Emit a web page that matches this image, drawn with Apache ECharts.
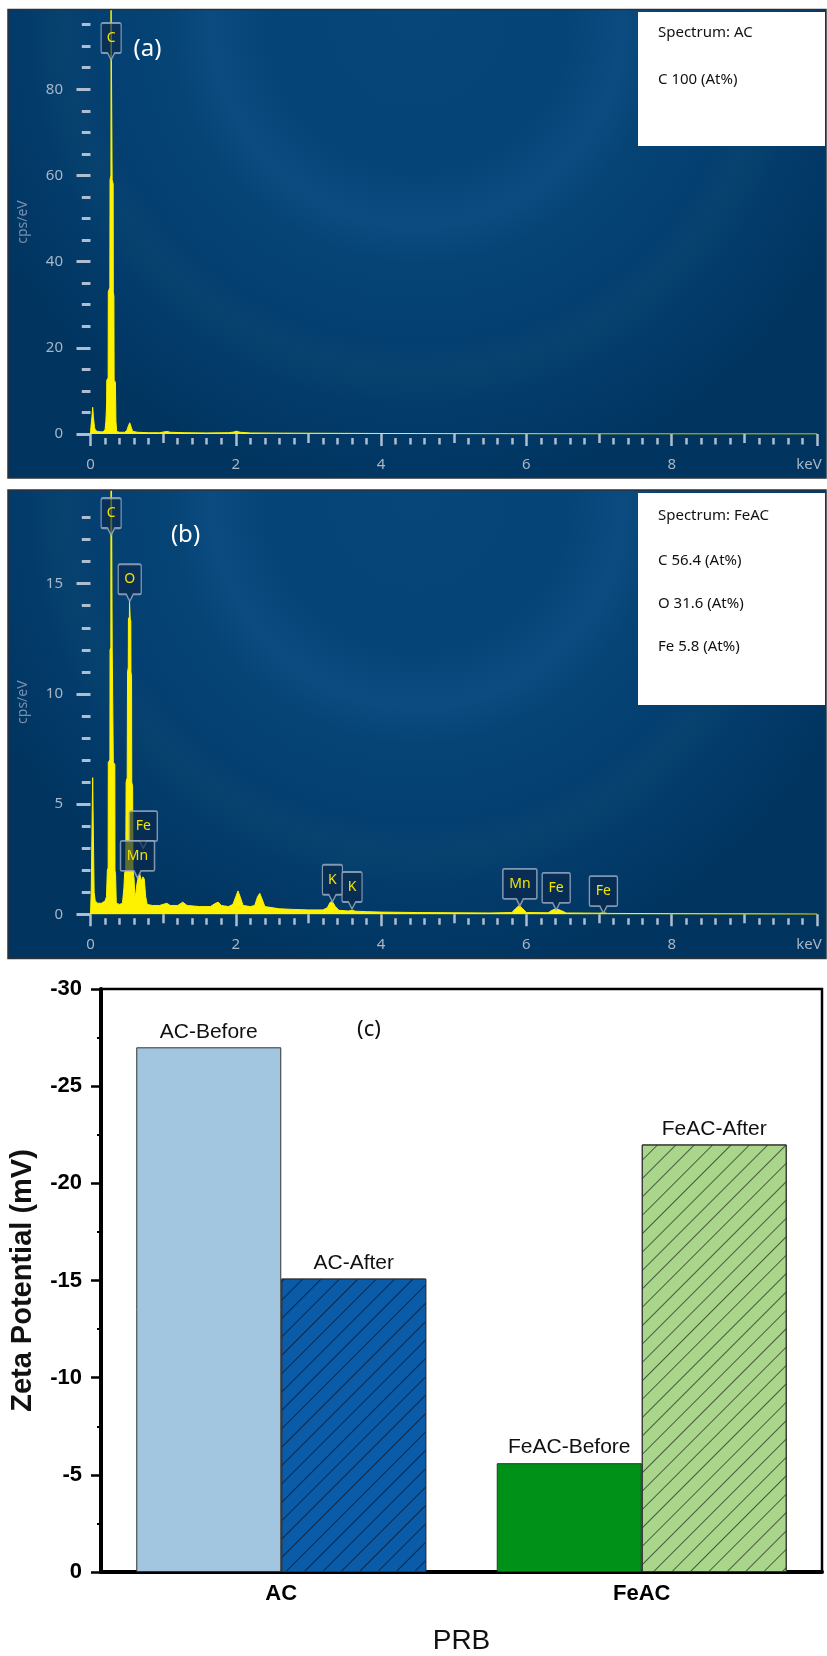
<!DOCTYPE html>
<html><head><meta charset="utf-8">
<script src="https://cdn.jsdelivr.net/npm/echarts@6/dist/echarts.min.js"></script>
<style>html,body{margin:0;padding:0;background:#fff}#c{width:827px;height:1656px}</style>
</head><body><div id="c"></div>
<script>
// ---------- DATA ----------
// Panel (a): EDS spectrum of AC  [keV, cps/eV]
const specA = [[0,0],[0.005,1.5],[0.02,4],[0.03,6.2],[0.04,4],[0.055,1.5],[0.07,0.8],[0.1,0.6],[0.13,0.5],[0.17,0.5],[0.2,0.9],
  [0.212,3],[0.222,7.2],[0.224,12.5],[0.243,13],[0.245,33],[0.266,34],[0.269,59],[0.281,60],[0.283,100],[0.296,100],[0.298,59],
  [0.312,58],[0.314,33],[0.322,32],[0.325,12.5],[0.343,12],[0.35,3],[0.36,0.6],[0.4,0.4],[0.47,0.4],[0.5,0.8],[0.52,1.8],[0.54,2.6],
  [0.56,1.6],[0.58,0.6],[0.65,0.4],[0.8,0.3],[0.95,0.3],[1.0,0.45],[1.05,0.6],[1.1,0.4],[1.3,0.3],[1.6,0.25],[1.9,0.3],[1.97,0.45],
  [2.01,0.65],[2.06,0.4],[2.2,0.25],[2.6,0.2],[3.0,0.18],[3.5,0.15],[4.0,0.12],[4.5,0.1],[5.0,0.07],[5.5,0.05],[6.0,0.04],[7.0,0.02],[8.0,0.01],[10,0]];
// Panel (b): EDS spectrum of FeAC  [keV, cps/eV]
const specB = [[0,0],[0.01,1],[0.025,5],[0.03,6.2],[0.038,4],[0.05,1],[0.065,0.6],[0.1,0.5],[0.15,0.5],[0.2,0.6],[0.22,0.8],
  [0.232,2],[0.243,2.1],[0.245,6.9],[0.267,7],[0.269,12],[0.28,12.1],[0.282,25],[0.297,25],[0.299,12],[0.312,12],[0.314,6.9],
  [0.335,6.8],[0.337,2],[0.345,1.8],[0.355,0.5],[0.4,0.45],[0.44,0.5],[0.46,1.2],[0.47,1.9],[0.485,2],[0.49,6],[0.505,6.2],
  [0.51,11],[0.52,11.2],[0.522,13.4],[0.535,13.5],[0.537,14.2],[0.545,14.2],[0.547,13.4],[0.555,13.3],[0.557,11],[0.565,10.8],
  [0.568,6],[0.58,5.8],[0.585,2],[0.6,1.6],[0.61,0.8],[0.625,1.0],[0.64,1.4],[0.66,1.7],[0.68,1.8],[0.7,1.5],[0.72,1.7],[0.74,1.6],
  [0.76,0.8],[0.78,0.45],[0.85,0.4],[0.95,0.4],[1.05,0.5],[1.1,0.4],[1.2,0.4],[1.27,0.55],[1.33,0.4],[1.5,0.35],[1.65,0.35],
  [1.72,0.5],[1.76,0.55],[1.8,0.4],[1.9,0.35],[1.96,0.45],[2.0,0.8],[2.03,1.06],[2.06,0.8],[2.1,0.4],[2.2,0.35],[2.26,0.4],
  [2.3,0.8],[2.33,0.95],[2.36,0.7],[2.4,0.35],[2.6,0.25],[2.8,0.22],[3.0,0.2],[3.2,0.2],[3.26,0.3],[3.3,0.55],[3.33,0.57],
  [3.37,0.35],[3.42,0.18],[3.55,0.15],[3.6,0.18],[3.65,0.14],[3.8,0.12],[4.0,0.1],[4.5,0.08],[5.0,0.07],[5.5,0.06],[5.8,0.08],
  [5.85,0.25],[5.9,0.4],[5.95,0.25],[6.0,0.08],[6.3,0.07],[6.35,0.18],[6.41,0.25],[6.47,0.18],[6.55,0.06],[7.0,0.05],[7.06,0.07],
  [7.12,0.04],[8.0,0.03],[9.0,0.02],[10,0.01]];
// Peak callouts: element, keV, cps at pointer tip
const peaksA = [['C',0.284,86.8]];
const peaksB = [['C',0.284,17.2],['O',0.54,14.2],['Fe',0.727,3.0],['Mn',0.647,1.65],['K',3.33,0.57],['K',3.6,0.24],
  ['Mn',5.91,0.38],['Fe',6.41,0.2],['Fe',7.06,0.05]];
const legendA = ['Spectrum: AC','C 100 (At%)'];
const legendB = ['Spectrum: FeAC','C 56.4 (At%)','O 31.6 (At%)','Fe 5.8 (At%)'];
// EDS axis ticks
const keVMajor = [0,2,4,6,8,10];
const keVLabels = ['0','2','4','6','8','keV'];
const keVMid = [1,3,5,7,9];
const cpsMajorA = [0,20,40,60,80];
const cpsMajorB = [0,5,10,15];
// Panel (c): zeta potential
const categories = ['AC','FeAC'];
const beforeValues = [-27.0,-5.6];
const afterValues = [-15.1,-22.0];
const beforeLabels = ['AC-Before','FeAC-Before'];
const afterLabels = ['AC-After','FeAC-After'];

// ---------- STYLE ----------
const tickCol = '#aebdcf', labCol = '#a9b6c7';
const boxW = {C:20,O:23,K:20,Fe:28,Mn:34};
function callout(w){const h=30,t=37,r=1.5,c=w/2;
  return `path://M${r},0 L${w-r},0 Q${w},0 ${w},${r} L${w},${h-r} Q${w},${h} ${w-r},${h} L${c+3.5},${h} L${c},${t} L${c-3.5},${h} L${r},${h} Q0,${h} 0,${h-r} L0,${r} Q0,0 ${r},0 Z`;}
function markers(list){return {
  data: list.map(p=>{const w=boxW[p[0]];return {name:p[0],coord:[p[1],p[2]],symbol:callout(w),symbolSize:[w,37],symbolOffset:[0,-18.5]};}),
  itemStyle:{color:'rgba(10,40,75,0.66)',borderColor:'rgba(160,176,198,0.8)',borderWidth:1.6},
  label:{show:true,formatter:'{b}',color:'#f3e400',fontSize:14,fontFamily:'Noto Sans',offset:[0,-3.5]},
  emphasis:{disabled:true},silent:true};}
function minorVals(max,step,skip){const a=[];for(let i=1;i*step<=max+1e-9;i++){const v=Math.round(i*step*100)/100;if(Math.abs(v/skip-Math.round(v/skip))>1e-6)a.push(v);}return a;}

function keVAxes(g){
  const base={type:'value',gridIndex:g,min:0,max:10,position:'bottom',offset:4,axisLine:{show:false},splitLine:{show:false}};
  return [
    Object.assign({},base,{axisTick:{show:true,customValues:keVMajor,length:12,lineStyle:{color:tickCol,width:2.5}},
      axisLabel:{show:true,customValues:keVMajor,margin:19,color:labCol,fontSize:15,fontFamily:'Noto Sans',
        formatter:v=>{const s=keVLabels[keVMajor.indexOf(v)];return s==='keV'?'{k|keV}':s;},
        rich:{k:{color:labCol,fontSize:15,fontFamily:'Noto Sans',padding:[0,16,0,0]}}}}),
    Object.assign({},base,{axisTick:{show:true,customValues:keVMid,length:9,lineStyle:{color:tickCol,width:2.5}},axisLabel:{show:false}}),
    Object.assign({},base,{axisTick:{show:true,customValues:minorVals(10,0.2,1),length:6.5,lineStyle:{color:tickCol,width:2.5}},axisLabel:{show:false}})
  ];
}
function cpsAxes(g,max,majors,minorStep){
  const base={type:'value',gridIndex:g,min:0,max:max,position:'left',offset:9.5,axisLine:{show:false},splitLine:{show:false}};
  const mj=majors[1]-majors[0];
  return [
    Object.assign({},base,{axisTick:{show:true,customValues:majors,length:14,lineStyle:{color:tickCol,width:3}},
      axisLabel:{show:true,customValues:majors,margin:18,color:labCol,fontSize:15,fontFamily:'Noto Sans'},
      name:'cps/eV',nameLocation:'middle',nameRotate:90,nameGap:51,nameTextStyle:{color:'#7890ae',fontSize:14,fontFamily:'Noto Sans'}}),
    Object.assign({},base,{axisTick:{show:true,customValues:minorVals(max-0.3,minorStep,mj),length:8.7,lineStyle:{color:tickCol,width:3}},axisLabel:{show:false}})
  ];
}
function panelBg(y){return {type:'rect',z:-10,shape:{x:8,y:y,width:818,height:468.5},
  style:{fill:{type:'radial',x:0.5,y:0.02,r:1.05,global:false,colorStops:[
    {offset:0,color:'#064679'},{offset:0.3,color:'#054477'},{offset:0.42,color:'#0b4b7f'},{offset:0.5,color:'#064476'},
    {offset:0.66,color:'#043f71'},{offset:0.72,color:'#07426f'},{offset:0.82,color:'#023a69'},{offset:1,color:'#01345e'}]}}};}
function panelBorder(y){return {type:'rect',z:5,shape:{x:8,y:y,width:818,height:468.5},style:{fill:'none',stroke:'#2c3138',lineWidth:1.5}};}
function legendBox(y,h,lines,ys){const els=[{type:'rect',z:10,shape:{x:638,y:y,width:187,height:h},style:{fill:'#ffffff'}}];
  lines.forEach((t,i)=>els.push({type:'text',z:11,x:658,y:ys[i],style:{text:t,fill:'#111',fontSize:15,fontFamily:'Noto Sans',verticalAlign:'middle'}}));return els;}

const xAx = keVAxes(0).concat(keVAxes(1)).concat([{
  type:'category',gridIndex:2,data:categories,position:'bottom',
  axisLine:{lineStyle:{color:'#000',width:4}},axisTick:{show:false},
  axisLabel:{margin:11,color:'#000',fontSize:22,fontWeight:'bold',fontFamily:'Liberation Sans'},
  name:'PRB',nameLocation:'middle',nameGap:55,nameTextStyle:{color:'#111',fontSize:28,fontFamily:'Liberation Sans'}}]);
const yAx = cpsAxes(0,98.4,cpsMajorA,5).concat(cpsAxes(1,19.25,cpsMajorB,1)).concat([{
  type:'value',gridIndex:2,min:-30,max:0,interval:5,inverse:true,position:'left',
  axisLine:{show:true,lineStyle:{color:'#000',width:4}},splitLine:{show:false},
  axisTick:{show:true,length:10,lineStyle:{color:'#000',width:2.5}},
  minorTick:{show:true,splitNumber:2,length:4,lineStyle:{color:'#000',width:2}},
  axisLabel:{margin:19,color:'#000',fontSize:22,fontWeight:'bold',fontFamily:'Liberation Sans'},
  name:'Zeta Potential (mV)',nameLocation:'middle',nameRotate:90,nameGap:64,
  nameTextStyle:{color:'#111',fontSize:29,fontWeight:'bold',fontFamily:'Liberation Sans'}}]);

const hatch = c=>({symbol:'rect',dashArrayX:[1,0],dashArrayY:[1,12],rotation:-Math.PI/4,color:c});
const beforeColors=['#a2c5e0','#009119'];
const afterColors=['#0a5ca8','#a9d68b'];
const afterHatch=['rgba(8,30,60,0.85)','rgba(40,50,40,0.75)'];
const barLabel={show:true,position:'top',distance:5,color:'#111',fontSize:21,fontFamily:'Liberation Sans'};

const option = {
  animation:false,
  grid:[
    {left:90.5,top:10,width:726.5,height:424},
    {left:90.5,top:490,width:726.5,height:424.3},
    {left:97,top:989,width:725,height:585,show:true,backgroundColor:'#fff',borderColor:'#000',borderWidth:2.5}
  ],
  xAxis:xAx, yAxis:yAx,
  graphic:{elements:[
    panelBg(9.5),panelBg(490),panelBorder(9.5),panelBorder(490)]
    .concat(legendBox(12,134,legendA,[33,80]))
    .concat(legendBox(493,212,legendB,[516,561,604,647]))
    .concat([
      {type:'text',z:11,x:147.5,y:49,style:{text:'(a)',fill:'#fff',fontSize:24,fontFamily:'Noto Sans',align:'center',verticalAlign:'middle'}},
      {type:'text',z:11,x:185.5,y:535,style:{text:'(b)',fill:'#fff',fontSize:24,fontFamily:'Noto Sans',align:'center',verticalAlign:'middle'}},
      {type:'text',z:11,x:369,y:1030,style:{text:'(c)',fill:'#111',fontSize:22,fontFamily:'Noto Sans',align:'center',verticalAlign:'middle'}}
    ])},
  series:[
    {type:'line',xAxisIndex:0,yAxisIndex:0,data:specA,showSymbol:false,symbol:'none',z:3,
     lineStyle:{color:'#fff200',width:1},areaStyle:{color:'#fff200',opacity:1},markPoint:markers(peaksA)},
    {type:'line',xAxisIndex:3,yAxisIndex:2,data:specB,showSymbol:false,symbol:'none',z:3,
     lineStyle:{color:'#fff200',width:1},areaStyle:{color:'#fff200',opacity:1},markPoint:markers(peaksB)},
    {type:'bar',xAxisIndex:6,yAxisIndex:4,barWidth:145,barGap:'0%',
     data:beforeValues.map((v,i)=>({value:v,itemStyle:{color:beforeColors[i],borderColor:'#333',borderWidth:1}})),
     label:Object.assign({formatter:p=>beforeLabels[p.dataIndex]},barLabel)},
    {type:'bar',xAxisIndex:6,yAxisIndex:4,barWidth:145,barGap:'0%',
     data:afterValues.map((v,i)=>({value:v,itemStyle:{color:afterColors[i],borderColor:'#333',borderWidth:1,decal:hatch(afterHatch[i])}})),
     label:Object.assign({formatter:p=>afterLabels[p.dataIndex]},barLabel)}
  ]
};
const chart = echarts.init(document.getElementById('c'),null,{renderer:'canvas'});
chart.setOption(option);
</script></body></html>
